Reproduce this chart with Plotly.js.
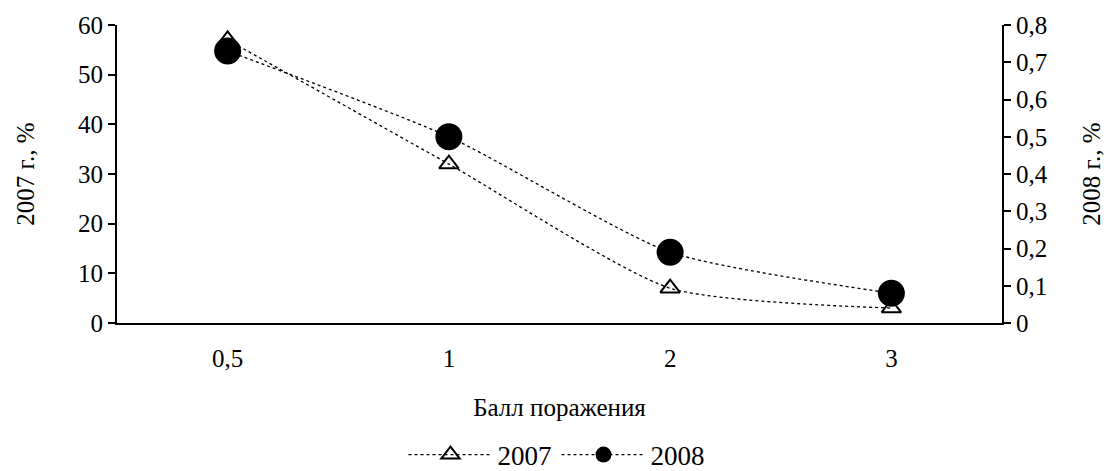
<!DOCTYPE html>
<html>
<head>
<meta charset="utf-8">
<script src="https://cdn.plot.ly/plotly-3.0.1.min.js"></script>
<style>
  html, body { margin: 0; padding: 0; background: #fff; }
  #chart { width: 1113px; height: 471px; }
</style>
</head>
<body>
<div id="chart"></div>
<script>
// Damage score categories
const scores = ['0,5', '1', '2', '3'];
// Share of plants by damage score, %
const values2007 = [57, 32, 7, 3];
const values2008 = [0.73, 0.50, 0.19, 0.08];

const fontFamily = 'Times New Roman, Liberation Serif, serif';

const traces = [
  {
    x: scores, y: values2007, name: '2007', type: 'scatter', mode: 'lines+markers',
    line: { color: '#000', width: 1.3, dash: '3px,3px', shape: 'spline', smoothing: 0.6 },
    marker: { symbol: 'triangle-up-open', size: 17, color: '#000', line: { width: 2, color: '#000' } },
    yaxis: 'y'
  },
  {
    x: scores, y: values2008, name: '2008', type: 'scatter', mode: 'lines+markers',
    line: { color: '#000', width: 1.3, dash: '3px,3px', shape: 'spline', smoothing: 0.6 },
    marker: { symbol: 'circle', size: 27, color: '#000' },
    yaxis: 'y2'
  }
];

const layout = {
  width: 1113, height: 471,
  margin: { l: 117, r: 111, t: 25, b: 148 },
  paper_bgcolor: '#fff', plot_bgcolor: '#fff',
  separators: ', ',
  font: { family: fontFamily, size: 25, color: '#000' },
  showlegend: true,
  legend: {
    orientation: 'h', x: 0.5, xanchor: 'center', xref: 'container',
    y: 0.034, yanchor: 'middle', yref: 'container',
    font: { family: fontFamily, size: 27, color: '#000' },
    itemwidth: 84
  },
  xaxis: {
    type: 'category', range: [-0.5, 3.5],
    showline: true, linecolor: '#000', linewidth: 2,
    ticks: '', showgrid: false, zeroline: false,
    tickfont: { family: fontFamily, size: 25 },
    ticklabelstandoff: 12,
    title: { text: 'Балл поражения', font: { family: fontFamily, size: 25 }, standoff: 27 }
  },
  yaxis: {
    range: [0, 60], dtick: 10, tick0: 0,
    showline: true, linecolor: '#000', linewidth: 2,
    ticks: 'outside', ticklen: 7, tickwidth: 2, tickcolor: '#000',
    showgrid: false, zeroline: false,
    tickfont: { family: fontFamily, size: 25 },
    title: { text: '2007 г., %', font: { family: fontFamily, size: 25 }, standoff: 36 }
  },
  yaxis2: {
    overlaying: 'y', side: 'right', range: [0, 0.8], dtick: 0.1, tick0: 0,
    showline: true, linecolor: '#000', linewidth: 2,
    ticks: 'outside', ticklen: 7, tickwidth: 2, tickcolor: '#000',
    showgrid: false, zeroline: false,
    tickfont: { family: fontFamily, size: 25 },
    title: { text: '2008 г., %', font: { family: fontFamily, size: 25 }, standoff: 36 }
  }
};

Plotly.newPlot('chart', traces, layout, { displayModeBar: false, staticPlot: true });
</script>
</body>
</html>
